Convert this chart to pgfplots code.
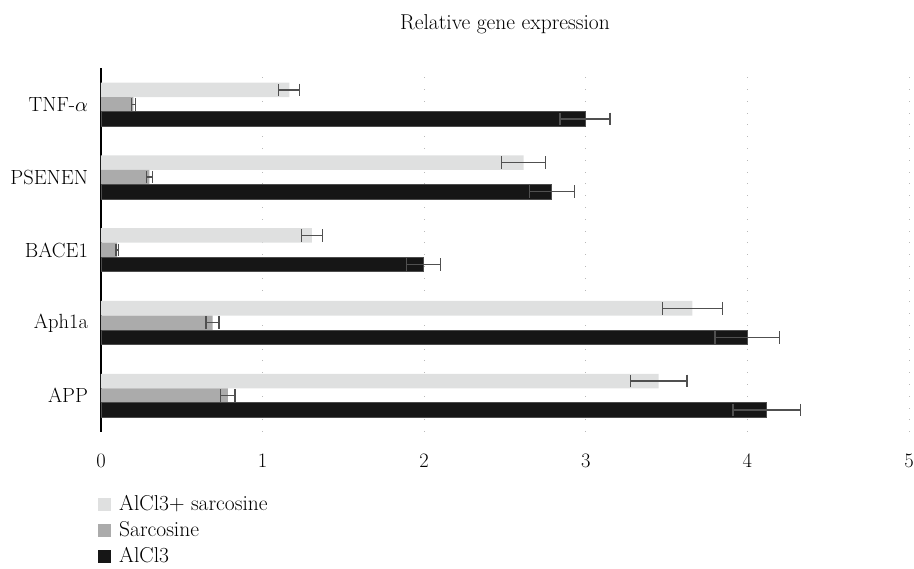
\RequirePackage{fix-cm}
\documentclass[border=0pt]{standalone}
\usepackage{fontspec}
\usepackage{pgfplots}
\pgfplotsset{compat=1.18}
\definecolor{clight}{HTML}{DFE0E0}
\definecolor{cgray}{HTML}{ABABAB}
\definecolor{cblack}{HTML}{161616}
\definecolor{cerr}{HTML}{505050}
\begin{document}
\fontsize{20.5}{24}\selectfont
\begin{tikzpicture}
\begin{axis}[
  scale only axis,
  width=808pt, height=364pt,
  xbar,
  bar width=0.2,
  xmin=0, xmax=5,
  ymin=-0.5, ymax=4.5,
  xtick={0,1,2,3,4,5},
  ytick={0,1,2,3,4},
  yticklabels={APP, Aph1a, BACE1, PSENEN, TNF-$\alpha$},
  /pgf/number format/assume math mode=true,
  axis lines*=left,
  x axis line style={draw=none},
  y axis line style={draw=black, line width=1.3pt, -},
  major tick length=0pt,
  xmajorgrids=true,
  grid style={draw=gray!55, line width=0.8pt, dash pattern=on 0.8pt off 11pt},
  xticklabel style={yshift=-15pt},
  yticklabel style={xshift=-6pt},
  title={Relative gene expression},
  title style={yshift=21pt, font=\fontsize{21.5}{25}\selectfont},
  legend style={at={(0,0)}, anchor=north west, xshift=-6pt, yshift=-59pt, draw=none, fill=none, row sep=4pt, font=\fontsize{21.5}{25}\selectfont},
  legend cell align=left,
  legend image code/.code={\path[#1,draw=none] (2pt,-6.5pt) rectangle (15pt,6.5pt);},
  legend style={nodes={inner xsep=8pt}},
]
\addplot[fill=clight, draw=none, bar shift=0.2,
  error bars/.cd, x dir=both, x explicit,
  error bar style={color=cerr, line width=1.4pt},
  error mark options={color=cerr, line width=1.4pt, mark size=6.3pt, rotate=90}]
  coordinates {(3.45,0) +- (0.175,0) (3.66,1) +- (0.185,0) (1.305,2) +- (0.065,0) (2.615,3) +- (0.135,0) (1.165,4) +- (0.065,0)};
\addplot[fill=cgray, draw=none, bar shift=0,
  error bars/.cd, x dir=both, x explicit,
  error bar style={color=cerr, line width=1.4pt},
  error mark options={color=cerr, line width=1.4pt, mark size=6.3pt, rotate=90}]
  coordinates {(0.785,0) +- (0.045,0) (0.69,1) +- (0.04,0) (0.1,2) +- (0.008,0) (0.3,3) +- (0.02,0) (0.2,4) +- (0.012,0)};
\addplot[fill=cblack, draw=black!70, line width=0.8pt, bar shift=-0.2,
  error bars/.cd, x dir=both, x explicit,
  error bar style={color=cerr, line width=1.4pt},
  error mark options={color=cerr, line width=1.4pt, mark size=6.3pt, rotate=90}]
  coordinates {(4.12,0) +- (0.21,0) (4.0,1) +- (0.2,0) (1.995,2) +- (0.105,0) (2.79,3) +- (0.14,0) (2.995,4) +- (0.155,0)};
\legend{AlCl3+ sarcosine, Sarcosine, AlCl3}
\end{axis}
\pgfresetboundingbox
\path[use as bounding box] (current axis.south west) ++(-101pt,-137pt) rectangle ++(914pt,569pt);
\end{tikzpicture}
\end{document}
